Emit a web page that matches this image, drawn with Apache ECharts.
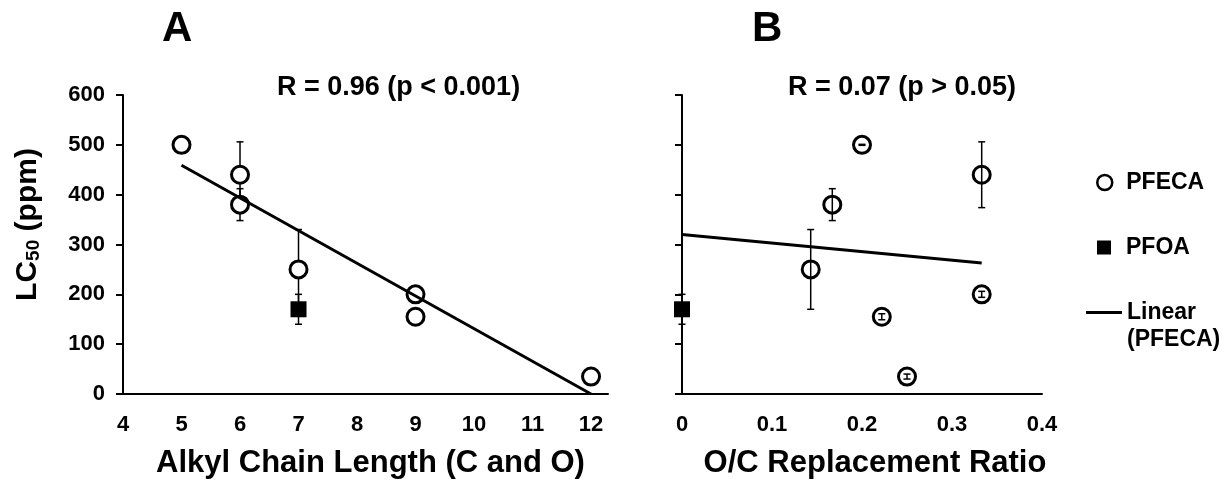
<!DOCTYPE html>
<html>
<head>
<meta charset="utf-8">
<script src="https://cdn.jsdelivr.net/npm/echarts@6/dist/echarts.min.js"></script>
<style>
  html, body { margin: 0; padding: 0; background: #fff; }
  #chart { width: 1229px; height: 484px; }
</style>
</head>
<body>
<div id="chart"></div>
<script>
// values
var chainLength = [5, 6, 6, 7, 9, 9, 12];
var ocRatio = [0.2, 0.333, 0.167, 0.143, 0.333, 0.222, 0.25];
var pfecaLC50 = [500, 440, 380, 250, 200, 155, 35];
var pfecaErr = [1, 66, 32, 80, 6, 6, 5];

var pfoaChain = [7];
var pfoaRatio = [0];
var pfoaLC50 = [170];
var pfoaErr = [30];

// linear fits (end points)
var fitAX = [5, 12];
var fitAY = [459, 0];
var fitBX = [0, 0.333];
var fitBY = [320, 263];

var FONT = '"Liberation Sans", Arial, sans-serif';

function pairs(xs, ys) {
    return xs.map(function (x, i) { return [x, ys[i]]; });
}
function bars(xs, ys, es) {
    return xs.map(function (x, i) { return [x, ys[i] - es[i], ys[i] + es[i]]; });
}

// vertical error bar with caps
function renderErr(params, api) {
    var lo = api.coord([api.value(0), api.value(1)]);
    var hi = api.coord([api.value(0), api.value(2)]);
    var w = 3.5;
    var st = { stroke: '#000', lineWidth: 1.5 };
    return {
        type: 'group',
        children: [
            { type: 'line', shape: { x1: lo[0], y1: lo[1], x2: hi[0], y2: hi[1] }, style: st },
            { type: 'line', shape: { x1: lo[0] - w, y1: lo[1], x2: lo[0] + w, y2: lo[1] }, style: st },
            { type: 'line', shape: { x1: hi[0] - w, y1: hi[1], x2: hi[0] + w, y2: hi[1] }, style: st }
        ]
    };
}

var axisLine = { lineStyle: { color: '#000', width: 2 } };
var tickLabel = { color: '#000', fontSize: 22, fontWeight: 'bold', fontFamily: FONT };
var legendText = { fontSize: 23, fontWeight: 'bold', color: '#000', lineHeight: 27, fontFamily: FONT };

var myChart = echarts.init(document.getElementById('chart'));
var option = {
    animation: false,
    textStyle: { fontFamily: FONT },
    title: [
        { text: 'A', left: 162, top: 8, padding: 0,
          textStyle: { fontSize: 42, fontWeight: 'bold', color: '#000', fontFamily: FONT } },
        { text: 'B', left: 752, top: 8, padding: 0,
          textStyle: { fontSize: 42, fontWeight: 'bold', color: '#000', fontFamily: FONT } },
        { text: 'R = 0.96 (p < 0.001)', left: 277, top: 74, padding: 0,
          textStyle: { fontSize: 27, fontWeight: 'bold', color: '#000', fontFamily: FONT } },
        { text: 'R = 0.07 (p > 0.05)', left: 788, top: 74, padding: 0,
          textStyle: { fontSize: 27, fontWeight: 'bold', color: '#000', fontFamily: FONT } }
    ],
    legend: [
        { data: ['PFECA'], left: 1096, top: 169, orient: 'vertical', padding: 0,
          itemWidth: 15, itemHeight: 15,
          itemStyle: { color: '#fff', borderColor: '#000', borderWidth: 2.5 },
          textStyle: Object.assign({ padding: [0, 0, 0, 9] }, legendText) },
        { data: ['PFOA'], left: 1097, top: 234, orient: 'vertical', padding: 0,
          itemWidth: 14, itemHeight: 14,
          textStyle: Object.assign({ padding: [0, 0, 0, 10] }, legendText) },
        { data: [{ name: 'Linear (PFECA)', icon: 'path://M0 0H36V3H0Z' }],
          left: 1086, top: 272, orient: 'vertical', padding: 0,
          itemWidth: 36, itemHeight: 3,
          itemStyle: { color: '#000' },
          formatter: function () { return '\nLinear\n(PFECA)'; },
          textStyle: legendText }
    ],
    grid: [
        { left: 123, top: 95, width: 485, height: 303 },
        { left: 682, top: 95, width: 360, height: 303 }
    ],
    xAxis: [
        {
            gridIndex: 0, type: 'value', min: 4, max: 12.29, interval: 1,
            name: 'Alkyl Chain Length (C and O)', nameLocation: 'middle', nameGap: 54,
            nameTextStyle: { fontSize: 31, fontWeight: 'bold', color: '#000', fontFamily: FONT, padding: [0, 0, 0, 10] },
            axisLine: axisLine, axisTick: { show: false }, splitLine: { show: false },
            axisLabel: Object.assign({ margin: 20, showMaxLabel: false }, tickLabel)
        },
        {
            gridIndex: 1, type: 'value', min: 0, max: 0.4, interval: 0.1,
            name: 'O/C Replacement Ratio', nameLocation: 'middle', nameGap: 54,
            nameTextStyle: { fontSize: 31, fontWeight: 'bold', color: '#000', fontFamily: FONT, padding: [0, 0, 0, 26] },
            axisLine: axisLine, axisTick: { show: false }, splitLine: { show: false },
            axisLabel: Object.assign({ margin: 20 }, tickLabel)
        }
    ],
    yAxis: [
        {
            gridIndex: 0, type: 'value', min: 0, max: 600, interval: 100,
            name: '{a|LC}{s|50}{a| (ppm)}', nameLocation: 'middle', nameGap: 80,
            nameTextStyle: {
                padding: [0, 0, 0, 40],
                rich: {
                    a: { fontSize: 30, fontWeight: 'bold', color: '#000', fontFamily: FONT, lineHeight: 34, verticalAlign: 'bottom' },
                    s: { fontSize: 19, fontWeight: 'bold', color: '#000', fontFamily: FONT, lineHeight: 24, verticalAlign: 'bottom' }
                }
            },
            axisLine: axisLine, axisTick: { length: 7, lineStyle: { color: '#000', width: 2 } },
            splitLine: { show: false },
            axisLabel: Object.assign({ margin: 18 }, tickLabel)
        },
        {
            gridIndex: 1, type: 'value', min: 0, max: 600, interval: 100,
            axisLine: axisLine, axisTick: { length: 7, lineStyle: { color: '#000', width: 2 } },
            splitLine: { show: false }, axisLabel: { show: false }
        }
    ],
    series: [
        // panel A
        { type: 'custom', xAxisIndex: 0, yAxisIndex: 0, renderItem: renderErr,
          data: bars(chainLength, pfecaLC50, pfecaErr), encode: { x: 0, y: [1, 2] }, z: 2, silent: true },
        { type: 'custom', xAxisIndex: 0, yAxisIndex: 0, renderItem: renderErr,
          data: bars(pfoaChain, pfoaLC50, pfoaErr), encode: { x: 0, y: [1, 2] }, z: 2, silent: true },
        { name: 'PFECA', type: 'scatter', xAxisIndex: 0, yAxisIndex: 0, symbol: 'circle', symbolSize: 17,
          itemStyle: { color: '#fff', borderColor: '#000', borderWidth: 3, opacity: 1 }, clip: false, z: 3,
          emphasis: { disabled: true }, data: pairs(chainLength, pfecaLC50) },
        { name: 'PFOA', type: 'scatter', xAxisIndex: 0, yAxisIndex: 0, symbol: 'rect', symbolSize: 16,
          itemStyle: { color: '#000', opacity: 1 }, clip: false, z: 3,
          emphasis: { disabled: true }, data: pairs(pfoaChain, pfoaLC50) },
        { name: 'Linear (PFECA)', type: 'line', xAxisIndex: 0, yAxisIndex: 0, symbol: 'none',
          lineStyle: { color: '#000', width: 3 }, itemStyle: { color: '#000' }, z: 4,
          data: pairs(fitAX, fitAY) },
        // panel B
        { type: 'custom', xAxisIndex: 1, yAxisIndex: 1, renderItem: renderErr,
          data: bars(ocRatio, pfecaLC50, pfecaErr), encode: { x: 0, y: [1, 2] }, z: 4, silent: true },
        { type: 'custom', xAxisIndex: 1, yAxisIndex: 1, renderItem: renderErr,
          data: bars(pfoaRatio, pfoaLC50, pfoaErr), encode: { x: 0, y: [1, 2] }, z: 2, silent: true },
        { name: 'PFECA', type: 'scatter', xAxisIndex: 1, yAxisIndex: 1, symbol: 'circle', symbolSize: 17,
          itemStyle: { color: 'rgba(255,255,255,0)', borderColor: '#000', borderWidth: 3, opacity: 1 }, clip: false, z: 3,
          emphasis: { disabled: true }, data: pairs(ocRatio, pfecaLC50) },
        { name: 'PFOA', type: 'scatter', xAxisIndex: 1, yAxisIndex: 1, symbol: 'rect', symbolSize: 16,
          itemStyle: { color: '#000', opacity: 1 }, clip: false, z: 3,
          emphasis: { disabled: true }, data: pairs(pfoaRatio, pfoaLC50) },
        { name: 'Linear (PFECA)', type: 'line', xAxisIndex: 1, yAxisIndex: 1, symbol: 'none',
          lineStyle: { color: '#000', width: 3 }, itemStyle: { color: '#000' }, z: 3,
          data: pairs(fitBX, fitBY) }
    ]
};
myChart.setOption(option, true);
window.addEventListener('resize', function () { myChart.resize(); });
</script>
</body>
</html>
